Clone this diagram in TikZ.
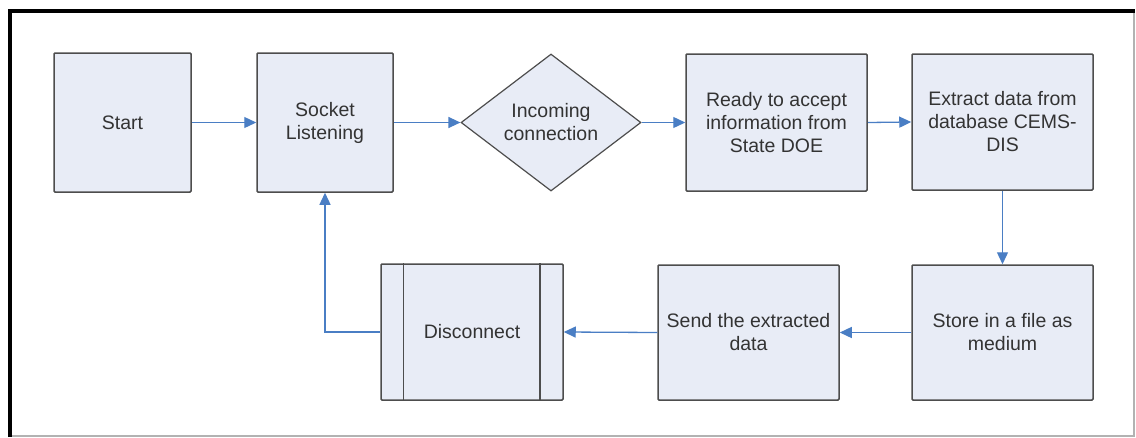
\documentclass[tikz,border=0pt]{standalone}
\usepackage{fontspec}
\setmainfont{Liberation Sans}
\usetikzlibrary{shapes.geometric,arrows.meta}
\definecolor{boxfill}{HTML}{E8ECF6}
\definecolor{boxline}{HTML}{4D4D4D}
\definecolor{arrowblue}{HTML}{4A7EC4}
\definecolor{txt}{HTML}{333333}
\begin{document}
\begin{tikzpicture}[x=1pt,y=-1pt,
  every node/.style={font=\fontsize{19.5}{23}\selectfont, text=txt, align=center},
  procbox/.style={draw=boxline, fill=boxfill, line width=1.5pt, rounded corners=1pt, inner sep=0pt},
  decbox/.style={draw=boxline, fill=boxfill, line width=1.2pt, diamond, shape aspect=1.31, inner sep=0pt, minimum width=180pt, minimum height=137pt},
  flow/.style={draw=arrowblue, line width=1.3pt, -{Triangle[length=12pt,width=11pt]}}
]
\useasboundingbox (0,0) rectangle (1136,437);
% frame
\draw[gray!60, line width=2pt] (1134,12) -- (1134,436) -- (10,436);
\draw[black, line width=4pt] (10,437) -- (10,11) -- (1135,11);

\node[procbox, minimum width=137pt, minimum height=139pt] (start) at (122.5,122.5) {Start};
\node[procbox, minimum width=136pt, minimum height=139pt] (sock) at (325,122.5) {Socket\\Listening};
\node[decbox] (inc) at (551,122.5) {Incoming\\connection};
\node[procbox, minimum width=181pt, minimum height=137pt] (ready) at (776.5,122.5) {Ready to accept\\information from\\State DOE};
\node[procbox, minimum width=181pt, minimum height=136pt] (extr) at (1002.5,122) {Extract data from\\database CEMS-\\DIS};
\node[procbox, minimum width=181pt, minimum height=135pt] (store) at (1002.5,332.5) {Store in a file as\\medium};
\node[procbox, minimum width=181pt, minimum height=135pt] (send) at (748.5,332.5) {Send the extracted\\data};
\node[procbox, minimum width=182pt, minimum height=136pt] (disc) at (472,332) {Disconnect};
\draw[boxline, line width=1.5pt] ([xshift=23pt]disc.north west) -- ([xshift=23pt]disc.south west);
\draw[boxline, line width=1.5pt] ([xshift=-24pt]disc.north east) -- ([xshift=-24pt]disc.south east);

\draw[flow] (start.east) -- (sock.west);
\draw[flow] (sock.east) -- (inc.west);
\draw[flow] (inc.east) -- (ready.west);
\draw[flow] (ready.east) -- (extr.west);
\draw[flow] (extr.south) -- (store.north);
\draw[flow] (store.west) -- (send.east);
\draw[flow] (send.west) -- (disc.east);
\draw[flow] (disc.west) -| (sock.south);
\end{tikzpicture}
\end{document}
